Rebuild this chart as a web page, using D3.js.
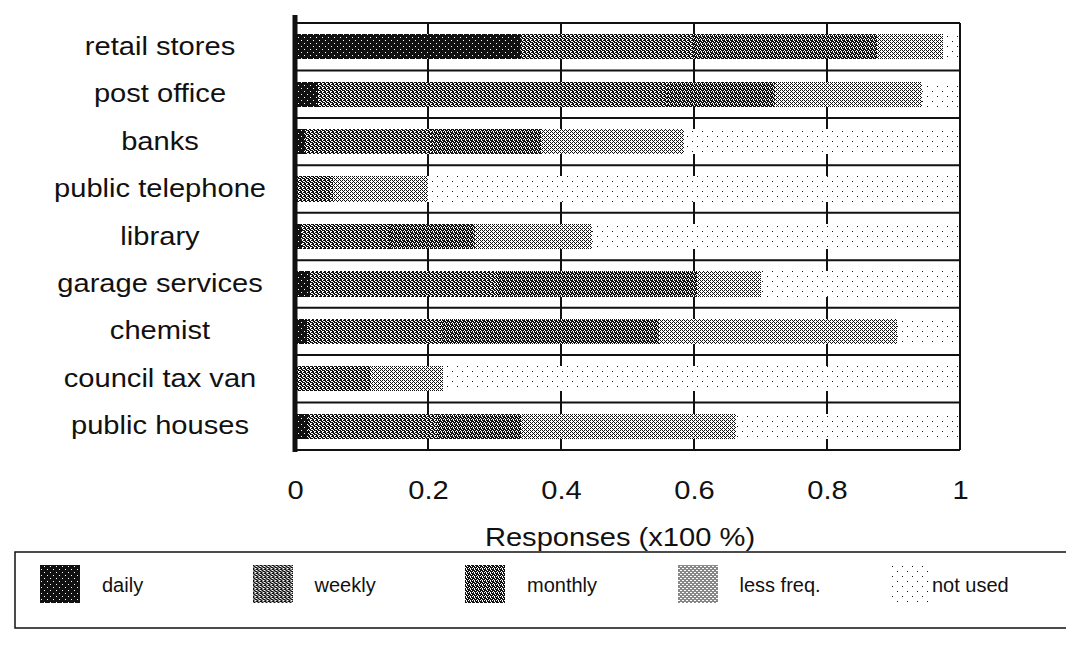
<!DOCTYPE html>
<html>
<head>
<meta charset="utf-8">
<script src="https://cdn.jsdelivr.net/npm/d3@7"></script>
<style>
  body { margin: 0; background: #fff; }
  text { font-family: "Liberation Sans", Arial, sans-serif; fill: #111; }
</style>
</head>
<body>
<div id="chart"></div>
<script>
// values (share of responses, 0..1)
var categories = ["retail stores", "post office", "banks", "public telephone", "library",
  "garage services", "chemist", "council tax van", "public houses"];
var seriesNames = ["daily", "weekly", "monthly", "less freq.", "not used"];
var daily    = [0.34, 0.035, 0.015, 0,     0.01,  0.022, 0.018, 0,     0.02];
var weekly   = [0.26, 0.525, 0.19,  0.057, 0.133, 0.28,  0.202, 0.114, 0.193];
var monthly  = [0.275, 0.162, 0.165, 0,    0.127, 0.303, 0.327, 0,     0.127];
var lessFreq = [0.10, 0.221, 0.215, 0.143, 0.176, 0.095, 0.359, 0.108, 0.323];
var notUsed  = [0.025, 0.057, 0.415, 0.8,  0.554, 0.30,  0.094, 0.778, 0.337];
var xTicks = [0, 0.2, 0.4, 0.6, 0.8, 1];

var rows = categories.map(function(c, i) {
  return { cat: c, "daily": daily[i], "weekly": weekly[i], "monthly": monthly[i],
    "less freq.": lessFreq[i], "not used": notUsed[i] };
});

var svg = d3.select("#chart").append("svg")
  .attr("width", 1066)
  .attr("height", 654);

// pixel patterns imitating the print screens ("#" = ink)
var patternRows = {
  "daily":      ["######", "####.#", "######", "######", "#.####", "######"],
  "weekly":     ["##.#", ".##.", "#.##", "##.."],
  "monthly":    ["#.##", "##.#", ".###", "#.#."],
  "less freq.": ["#.#.", ".#..", "#.#.", "...#"],
  "not used":   ["..........", "..#.......", "..........", "..........", "..........",
                 "..........", ".......#..", "..........", "..........", ".........."]
};
var defs = svg.append("defs");
seriesNames.forEach(function(name, k) {
  var p = patternRows[name];
  var pat = defs.append("pattern")
    .attr("id", "pat" + k)
    .attr("patternUnits", "userSpaceOnUse")
    .attr("width", p[0].length)
    .attr("height", p.length);
  var ink = p.join("").split("").filter(c => c === "#").length;
  var darkBg = ink > p.join("").length / 2;
  pat.append("rect").attr("width", p[0].length).attr("height", p.length)
    .attr("fill", darkBg ? "#111" : "#fff").attr("shape-rendering", "crispEdges");
  p.forEach(function(line, yy) {
    line.split("").forEach(function(ch, xx) {
      if ((ch === "#") !== darkBg) {
        pat.append("rect").attr("x", xx).attr("y", yy).attr("width", 1).attr("height", 1)
          .attr("fill", darkBg ? "#fff" : "#111").attr("shape-rendering", "crispEdges");
      }
    });
  });
});

var plotLeft = 295, plotRight = 960, plotTop = 23, plotBottom = 450;

var x = d3.scaleLinear().domain([0, 1]).range([plotLeft, plotRight]);
var y = d3.scaleBand().domain(categories).range([plotTop, plotBottom])
  .paddingInner(0.47).paddingOuter(0.235);

var chart = svg.append("g");

// vertical grid lines (behind bars)
chart.selectAll("line.vgrid")
  .data(xTicks.slice(1, -1))
  .enter().append("line")
  .attr("class", "vgrid")
  .attr("x1", d => x(d)).attr("x2", d => x(d))
  .attr("y1", plotTop).attr("y2", plotBottom)
  .attr("stroke", "#111").attr("stroke-width", 2);

// horizontal lines between rows
var rowEdges = d3.range(categories.length + 1);
chart.selectAll("line.hgrid")
  .data(rowEdges)
  .enter().append("line")
  .attr("class", "hgrid")
  .attr("x1", plotLeft).attr("x2", plotRight)
  .attr("y1", d => plotTop + d * y.step()).attr("y2", d => plotTop + d * y.step())
  .attr("stroke", "#111").attr("stroke-width", 2);

var stack = d3.stack().keys(seriesNames);
var layers = stack(rows);

chart.selectAll("g.layer")
  .data(layers)
  .enter().append("g")
  .attr("class", "layer")
  .attr("fill", (d, i) => "url(#pat" + i + ")")
  .selectAll("rect")
  .data(d => d)
  .enter().append("rect")
  .attr("x", d => x(d[0]))
  .attr("y", d => y(d.data.cat))
  .attr("width", d => x(d[1]) - x(d[0]))
  .attr("height", y.bandwidth())
  .attr("shape-rendering", "crispEdges");

// frame
chart.append("line")
  .attr("x1", plotRight).attr("x2", plotRight)
  .attr("y1", plotTop).attr("y2", plotBottom)
  .attr("stroke", "#111").attr("stroke-width", 2);
chart.append("line")
  .attr("x1", plotLeft).attr("x2", plotLeft)
  .attr("y1", plotTop - 8).attr("y2", plotBottom + 2)
  .attr("stroke", "#111").attr("stroke-width", 5);

// category labels
chart.selectAll("text.cat")
  .data(categories)
  .enter().append("text")
  .attr("class", "cat")
  .attr("text-anchor", "middle")
  .attr("font-size", 26)
  .attr("transform", d => "translate(160," + (y(d) + y.bandwidth() / 2 + 8) + ") scale(1.12,1)")
  .text(d => d);

// x axis
var xAxis = chart.append("g")
  .attr("transform", "translate(0," + plotBottom + ")")
  .call(d3.axisBottom(x).tickValues(xTicks).tickFormat(d3.format("")).tickSize(0).tickPadding(31));
xAxis.select(".domain").remove();
xAxis.selectAll("text")
  .attr("font-size", 26)
  .attr("font-family", "Liberation Sans, Arial, sans-serif")
  .attr("fill", "#111")
  .attr("transform", "scale(1.12,1)");

svg.append("text")
  .attr("text-anchor", "middle")
  .attr("font-size", 26)
  .attr("transform", "translate(620,546) scale(1.12,1)")
  .text("Responses (x100 %)");

// legend
var legend = svg.append("g");
legend.append("rect")
  .attr("x", 15).attr("y", 552)
  .attr("width", 1070).attr("height", 76)
  .attr("fill", "none").attr("stroke", "#111").attr("stroke-width", 1.5);

var legendX = d3.scalePoint().domain(seriesNames).range([40, 890]);
var items = legend.selectAll("g.item")
  .data(seriesNames)
  .enter().append("g")
  .attr("class", "item")
  .attr("transform", d => "translate(" + legendX(d) + ",565)");
items.append("rect")
  .attr("width", 40).attr("height", 38)
  .attr("fill", (d, i) => "url(#pat" + i + ")")
  .attr("shape-rendering", "crispEdges");
items.append("text")
  .attr("x", (d, i) => i === 4 ? 42 : 62)
  .attr("y", 27)
  .attr("font-size", 20)
  .text(d => d);
</script>
</body>
</html>
